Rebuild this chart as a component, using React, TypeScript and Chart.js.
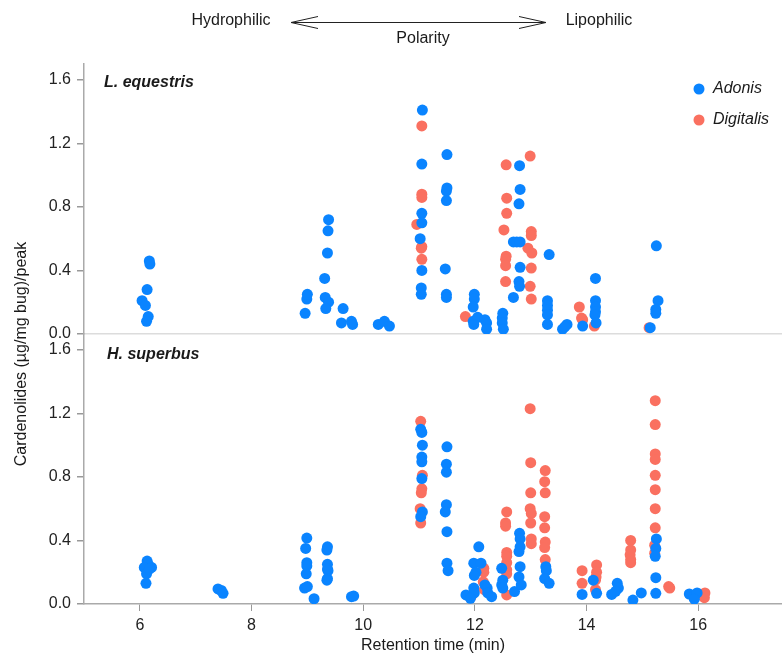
import React, { useEffect, useRef } from "react";
import { Chart, registerables } from "chart.js";

Chart.register(...registerables);

// ---- Data (retention time in min, cardenolides (µg/mg bug)/peak) ----
const seriesNames = ["Adonis", "Digitalis"];
const panelLabels = ["L. equestris", "H. superbus"];
const xTitle = "Retention time (min)";
const yTitle = "Cardenolides (µg/mg bug)/peak";
const polarityLabels = ["Hydrophilic", "Polarity", "Lipophilic"];

const topAdonis: number[][] = [
  [6.17, 0.46], [6.18, 0.44], [6.13, 0.28], [6.04, 0.21], [6.1, 0.18], [6.15, 0.11], [6.12, 0.08],
  [8.96, 0.13], [8.99, 0.22], [9.0, 0.25],
  [9.38, 0.72], [9.37, 0.65], [9.36, 0.51], [9.31, 0.35], [9.32, 0.23], [9.38, 0.2], [9.33, 0.16],
  [9.64, 0.16], [9.61, 0.07], [9.79, 0.08], [9.81, 0.06],
  [10.27, 0.06], [10.38, 0.08], [10.47, 0.05],
  [11.06, 1.41], [11.05, 1.07], [11.05, 0.76], [11.05, 0.7], [11.02, 0.6], [11.05, 0.4], [11.04, 0.29], [11.04, 0.25],
  [11.5, 1.13], [11.5, 0.92], [11.49, 0.9], [11.49, 0.84], [11.47, 0.41], [11.49, 0.25], [11.49, 0.23],
  [11.99, 0.25], [11.99, 0.22], [11.97, 0.17], [11.97, 0.08], [12.05, 0.105], [12.18, 0.09], [12.21, 0.07], [12.21, 0.03], [11.98, 0.06],
  [12.5, 0.13], [12.49, 0.1], [12.49, 0.07], [12.51, 0.03],
  [12.8, 1.06], [12.81, 0.91], [12.79, 0.82], [12.69, 0.58], [12.75, 0.58], [12.81, 0.58], [12.81, 0.42], [12.79, 0.33], [12.8, 0.3], [12.69, 0.23],
  [13.33, 0.5], [13.3, 0.21], [13.3, 0.18], [13.3, 0.15], [13.3, 0.12], [13.3, 0.06],
  [13.57, 0.03], [13.65, 0.06], [13.61, 0.045],
  [14.16, 0.35], [14.16, 0.21], [14.16, 0.17], [14.16, 0.14], [14.15, 0.12], [14.17, 0.07], [13.93, 0.05],
  [15.25, 0.555], [15.28, 0.21], [15.24, 0.155], [15.24, 0.13], [15.14, 0.04],
];

const topDigitalis: number[][] = [
  [11.05, 1.31], [11.05, 0.88], [11.05, 0.86], [10.96, 0.69], [11.05, 0.55], [11.04, 0.54], [11.05, 0.47],
  [11.83, 0.11],
  [12.56, 1.065], [12.57, 0.855], [12.57, 0.76], [12.52, 0.655], [12.56, 0.49], [12.55, 0.47], [12.55, 0.43], [12.55, 0.33],
  [12.99, 1.12], [13.01, 0.645], [13.01, 0.62], [12.95, 0.54], [13.02, 0.51], [13.01, 0.415], [12.99, 0.3], [13.01, 0.22],
  [13.87, 0.17], [13.93, 0.09], [13.91, 0.1], [14.14, 0.05],
  [15.12, 0.04],
];

const bottomAdonis: number[][] = [
  [6.13, 0.27], [6.15, 0.25], [6.08, 0.23], [6.21, 0.23], [6.12, 0.19], [6.11, 0.13], [6.17, 0.22],
  [7.4, 0.095], [7.46, 0.085], [7.49, 0.067],
  [8.99, 0.415], [8.97, 0.35], [8.99, 0.26], [8.99, 0.24], [8.98, 0.19], [8.95, 0.1], [9.0, 0.11], [9.12, 0.033],
  [9.36, 0.36], [9.35, 0.34], [9.36, 0.25], [9.36, 0.22], [9.37, 0.21], [9.36, 0.16], [9.35, 0.15],
  [9.79, 0.046], [9.83, 0.05],
  [11.03, 1.1], [11.05, 1.08], [11.06, 1.0], [11.05, 0.925], [11.05, 0.895], [11.05, 0.79], [11.06, 0.58], [11.03, 0.55],
  [11.5, 0.99], [11.49, 0.88], [11.49, 0.83], [11.49, 0.625], [11.47, 0.58], [11.5, 0.455], [11.5, 0.257], [11.52, 0.21],
  [11.84, 0.057], [11.98, 0.1], [11.99, 0.07], [12.07, 0.36], [11.98, 0.257], [12.11, 0.257], [12.02, 0.2], [11.99, 0.18],
  [12.18, 0.12], [12.22, 0.1], [12.23, 0.07], [12.3, 0.046], [11.92, 0.036],
  [12.48, 0.225], [12.5, 0.15], [12.48, 0.12], [12.5, 0.1], [12.71, 0.078],
  [12.8, 0.445], [12.81, 0.41], [12.81, 0.36], [12.79, 0.33], [12.81, 0.235], [12.79, 0.17], [12.83, 0.12],
  [13.27, 0.235], [13.28, 0.21], [13.25, 0.16], [13.33, 0.13],
  [13.92, 0.06], [14.12, 0.15], [14.18, 0.067],
  [14.45, 0.06], [14.55, 0.13], [14.57, 0.1], [14.52, 0.08],
  [14.83, 0.025], [14.98, 0.07],
  [15.25, 0.41], [15.24, 0.35], [15.23, 0.3], [15.24, 0.166], [15.24, 0.067],
  [15.84, 0.063], [15.93, 0.05], [15.98, 0.07], [15.93, 0.03],
];

const bottomDigitalis: number[][] = [
  [11.03, 1.15], [11.06, 0.81], [11.05, 0.725], [11.04, 0.7], [11.02, 0.6], [11.03, 0.51],
  [11.95, 0.057], [11.92, 0.04], [12.16, 0.225], [12.16, 0.2], [12.15, 0.14], [12.17, 0.09],
  [12.57, 0.58], [12.55, 0.51], [12.55, 0.49], [12.57, 0.325], [12.57, 0.3], [12.57, 0.26], [12.57, 0.215], [12.57, 0.19], [12.57, 0.057],
  [12.99, 1.23], [13.0, 0.89], [13.0, 0.7], [12.99, 0.6], [13.01, 0.57], [13.0, 0.51], [13.01, 0.41], [13.01, 0.38],
  [13.26, 0.84], [13.25, 0.77], [13.26, 0.7], [13.25, 0.55], [13.25, 0.48], [13.26, 0.39], [13.25, 0.355], [13.26, 0.28],
  [13.92, 0.21], [13.92, 0.13],
  [14.18, 0.246], [14.18, 0.2], [14.17, 0.17], [14.16, 0.15], [14.16, 0.09],
  [14.79, 0.4], [14.79, 0.34], [14.78, 0.31], [14.79, 0.28], [14.79, 0.26],
  [15.23, 1.28], [15.23, 1.13], [15.23, 0.945], [15.23, 0.91], [15.23, 0.81], [15.23, 0.72], [15.23, 0.6], [15.23, 0.48], [15.22, 0.37], [15.22, 0.32],
  [15.47, 0.11], [15.49, 0.1],
  [16.1, 0.057], [16.11, 0.04], [16.12, 0.07],
];

const BLUE = "rgb(10,132,255)";
const RED = "rgb(250,112,96)";
const FONT = '"Liberation Sans", Arial, Helvetica, sans-serif';
const TEXT = "#1a1a1a";

const toPts = (arr: number[][]) => arr.map(([x, y]) => ({ x, y }));

const overlayPlugin = {
  id: "overlay",
  afterDraw(chart: any) {
    const ctx = chart.ctx as CanvasRenderingContext2D;
    const area = chart.chartArea;
    const yT = chart.scales.yTop;
    const yB = chart.scales.yBottom;
    ctx.save();
    ctx.fillStyle = TEXT;
    ctx.textBaseline = "middle";
    ctx.textAlign = "left";
    // panel labels
    ctx.font = `bold italic 16px ${FONT}`;
    ctx.fillText(panelLabels[0], area.left + 20, yT.top + 19);
    ctx.fillText(panelLabels[1], area.left + 23, yB.top + 21);
    // legend
    ctx.font = `italic 16px ${FONT}`;
    const lx = 699;
    const ly = [89, 120];
    [BLUE, RED].forEach((c, i) => {
      ctx.beginPath();
      ctx.fillStyle = c;
      ctx.arc(lx, ly[i], 5.5, 0, Math.PI * 2);
      ctx.fill();
      ctx.fillStyle = TEXT;
      ctx.fillText(seriesNames[i], lx + 14, ly[i]);
    });
    // polarity annotation
    ctx.font = `16px ${FONT}`;
    ctx.textAlign = "center";
    ctx.fillText(polarityLabels[0], 231, 21);
    ctx.fillText(polarityLabels[1], 423, 39);
    ctx.fillText(polarityLabels[2], 599, 21);
    ctx.strokeStyle = "#222";
    ctx.lineWidth = 1;
    const ay = 22.5;
    const a0 = 291, a1 = 546;
    ctx.beginPath();
    ctx.moveTo(a0, ay);
    ctx.lineTo(a1, ay);
    ctx.moveTo(a0 + 27, ay - 6);
    ctx.lineTo(a0, ay);
    ctx.lineTo(a0 + 27, ay + 6);
    ctx.moveTo(a1 - 27, ay - 6);
    ctx.lineTo(a1, ay);
    ctx.lineTo(a1 - 27, ay + 6);
    ctx.stroke();
    // y title
    ctx.translate(22, (area.top + area.bottom) / 2 + 20);
    ctx.rotate(-Math.PI / 2);
    ctx.textAlign = "center";
    ctx.fillText(yTitle, 0, 0);
    ctx.restore();
  },
};

const tickFont = { family: FONT, size: 16 };

function yScale(isTop: boolean) {
  return {
    type: "linear" as const,
    position: "left" as const,
    stack: "panels",
    stackWeight: 1,
    min: 0,
    max: 1.7,
    border: { color: "#aaa", width: 1.5 },
    grid: {
      drawOnChartArea: isTop,
      color: (c: any) => (isTop && c.tick && c.tick.value === 0 ? "#dcdcdc" : "rgba(0,0,0,0)"),
      lineWidth: 1.5,
      tickColor: "#999",
      tickLength: 7,
    },
    ticks: {
      stepSize: 0.4,
      includeBounds: false,
      font: tickFont,
      color: "#222",
      padding: 6,
      callback: (v: any) => Number(v).toFixed(1),
    },
    afterFit: (s: any) => {
      s.width = 84;
    },
  };
}

export default function App() {
  const ref = useRef<HTMLCanvasElement | null>(null);
  useEffect(() => {
    document.body.style.margin = "0";
    if (!ref.current) return;
    const chart = new Chart(ref.current, {
      type: "scatter",
      data: {
        datasets: [
          { label: seriesNames[0], data: toPts(topAdonis), yAxisID: "yTop", backgroundColor: BLUE, borderWidth: 0, pointRadius: 5.5 },
          { label: seriesNames[1], data: toPts(topDigitalis), yAxisID: "yTop", backgroundColor: RED, borderWidth: 0, pointRadius: 5.5 },
          { label: seriesNames[0], data: toPts(bottomAdonis), yAxisID: "yBottom", backgroundColor: BLUE, borderWidth: 0, pointRadius: 5.5 },
          { label: seriesNames[1], data: toPts(bottomDigitalis), yAxisID: "yBottom", backgroundColor: RED, borderWidth: 0, pointRadius: 5.5 },
        ],
      },
      options: {
        responsive: false,
        animation: false,
        devicePixelRatio: 1,
        layout: { autoPadding: false, padding: { top: 64, left: 0, right: 0, bottom: 0 } },
        plugins: { legend: { display: false }, tooltip: { enabled: false } },
        scales: {
          x: {
            type: "linear",
            position: "bottom",
            min: 5,
            max: 17.5,
            border: { color: "#aaa", width: 1.5 },
            grid: { drawOnChartArea: false, tickColor: "#999", tickLength: 7 },
            ticks: { stepSize: 2, includeBounds: false, font: tickFont, color: "#222", padding: 5, maxRotation: 0 },
            title: { display: true, text: xTitle, font: tickFont, color: TEXT, padding: { top: 0, bottom: 0 } },
            afterFit: (s: any) => {
              s.height = 51;
            },
          },
          yBottom: yScale(false),
          yTop: yScale(true),
        } as any,
      },
      plugins: [overlayPlugin],
    });
    return () => chart.destroy();
  }, []);
  return (
    <div style={{ position: "absolute", left: 0, top: 0, width: 782, height: 655, background: "#fff" }}>
      <canvas ref={ref} width={782} height={655} style={{ display: "block" }} />
    </div>
  );
}
